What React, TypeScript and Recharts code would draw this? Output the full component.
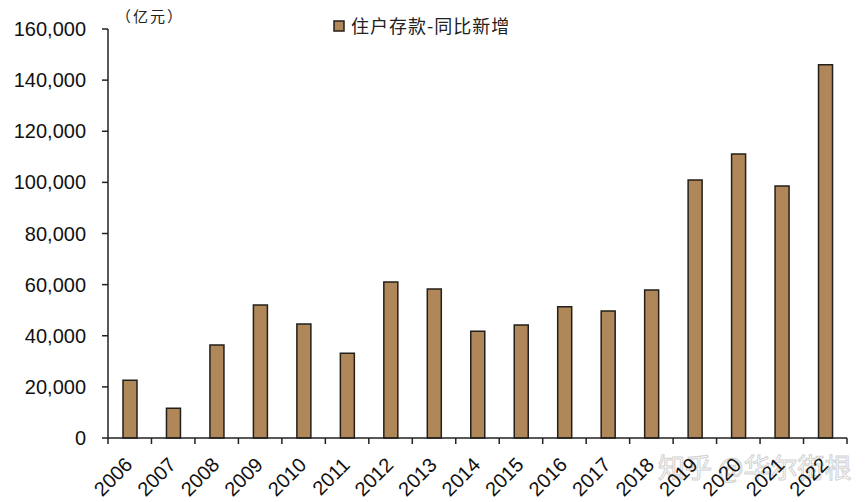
import React from 'react';
import { BarChart, Bar, XAxis, YAxis, Customized } from 'recharts';

const years = ['2006', '2007', '2008', '2009', '2010', '2011', '2012', '2013', '2014', '2015', '2016', '2017', '2018', '2019', '2020', '2021', '2022'];
const deposits = [22600, 11600, 36400, 52000, 44600, 33200, 61000, 58300, 41800, 44200, 51300, 49700, 57900, 100900, 111100, 98600, 146000];
const yTicks = [0, 20000, 40000, 60000, 80000, 100000, 120000, 140000, 160000];
const seriesName = '住户存款-同比新增';
const unitLabel = '（亿元）';
const watermark = '知乎 @华尔街根';

const data = years.map((y, i) => ({ year: y, value: deposits[i] }));

const W = 865;
const H = 502;
const M = { top: 29, right: 18, left: 0, bottom: 0 };
const Y_W = 108;
const X_H = 64;
const band = (W - M.left - M.right - Y_W) / years.length;
const FILL = '#B08759';
const EDGE = '#231f1a';

const XTick = (props: any) => {
  const { x, y, payload, index } = props;
  const isLast = index === years.length - 1;
  return (
    <g>
      <line x1={x - band / 2} x2={x - band / 2} y1={y} y2={y + 6} stroke="#222" strokeWidth={1.5} />
      {isLast && <line x1={x + band / 2} x2={x + band / 2} y1={y} y2={y + 6} stroke="#222" strokeWidth={1.5} />}
      <text
        x={x + 4}
        y={y + 28}
        textAnchor="end"
        transform={`rotate(-45, ${x + 4}, ${y + 28})`}
        fontFamily="'Liberation Sans', Arial, sans-serif"
        fontSize={20}
        fill="#111"
      >
        {payload.value}
      </text>
    </g>
  );
};

const Overlay = () => (
  <g>
    <text x={116} y={22} fontFamily="'Noto Sans CJK SC', sans-serif" fontSize={15} fill="#222" letterSpacing={2}>{unitLabel}</text>
    <rect x={334} y={21} width={10} height={10} fill={FILL} stroke={EDGE} strokeWidth={1.5} />
    <text x={351} y={33} fontFamily="'Noto Sans CJK SC', sans-serif" fontSize={18} fill="#222" letterSpacing={1}>{seriesName}</text>
    <text x={658} y={478} fontFamily="'Noto Sans CJK SC', sans-serif" fontSize={27} fill="#ffffff" stroke="#c8c8c8" strokeWidth={1} opacity={0.8}>{watermark}</text>
  </g>
);

export default function App() {
  return (
    <div style={{ position: 'absolute', left: 0, top: 0, width: W, height: H, background: '#fff' }}>
      <BarChart width={W} height={H} data={data} margin={M}>
        <XAxis
          dataKey="year"
          height={X_H}
          interval={0}
          tickSize={0}
          tickMargin={0}
          tick={<XTick />}
          axisLine={{ stroke: '#222', strokeWidth: 1.5 }}
          tickLine={false}
        />
        <YAxis
          width={Y_W}
          domain={[0, 160000]}
          ticks={yTicks}
          interval={0}
          tickSize={6}
          tickMargin={16}
          tickFormatter={(v: number) => v.toLocaleString('en-US')}
          tick={{ fontFamily: "'Liberation Sans', Arial, sans-serif", fontSize: 20, fill: '#111' }}
          axisLine={{ stroke: '#222', strokeWidth: 1.5 }}
          tickLine={{ stroke: '#222', strokeWidth: 1.5 }}
        />
        <Bar dataKey="value" name={seriesName} fill={FILL} stroke={EDGE} strokeWidth={1.5} barSize={14} isAnimationActive={false} />
        <Customized component={Overlay} />
      </BarChart>
    </div>
  );
}
